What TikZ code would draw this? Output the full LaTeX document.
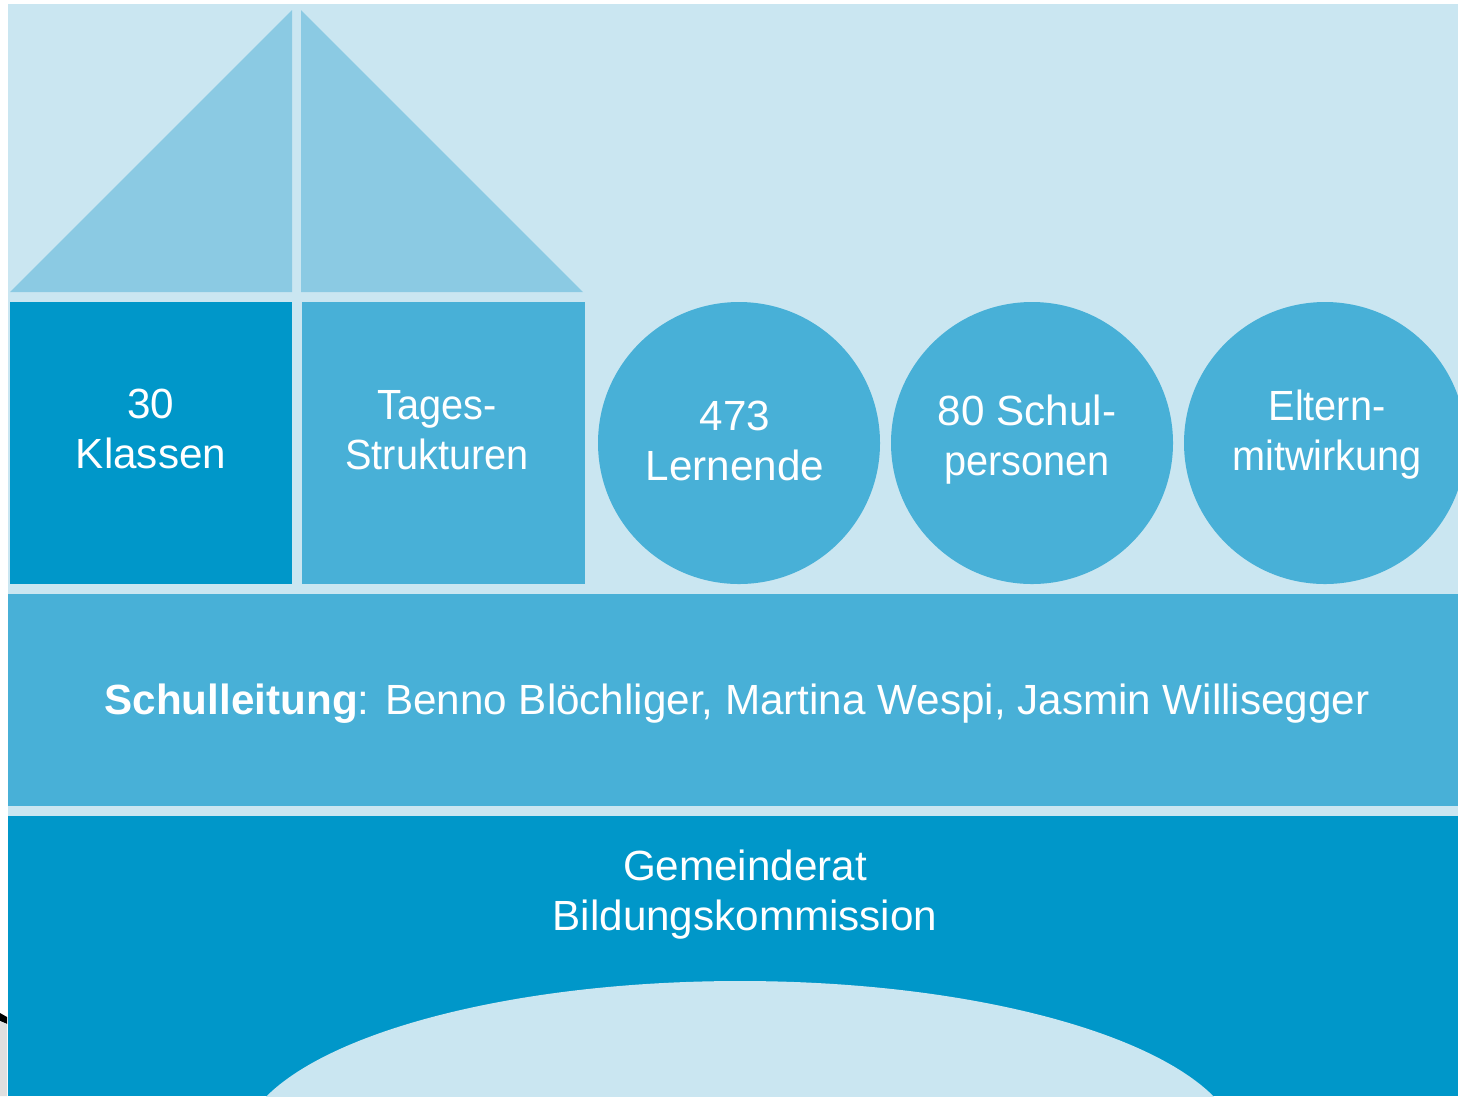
\documentclass[tikz,border=0pt]{standalone}
\usepackage{fontspec}
\setmainfont{Liberation Sans}
\newfontfamily\schmal[FakeStretch=0.94]{Liberation Sans}
\definecolor{hell}{HTML}{CAE6F1}
\definecolor{dach}{HTML}{8BCAE3}
\definecolor{dunkel}{HTML}{0097C9}
\definecolor{mittel}{HTML}{48B0D7}
\begin{document}
\begin{tikzpicture}[x=0.01cm,y=-0.01cm,
        txt/.style={text=white,align=center,inner sep=0pt,font=\fontsize{12}{14.2}\selectfont}]
            \useasboundingbox (0,0) rectangle (1458,1096);
            \fill[white] (0,0) rectangle (1458,1096);
            \fill[hell] (8,4) rectangle (1458,1096);
            \fill[black] (0,1013) -- (7,1017) -- (7,1024) -- (0,1021) -- cycle;
            \fill[gray!25] (0,1021) -- (7,1024) -- (7,1096) -- (0,1096) -- cycle;
            \fill[dach] (10,292) -- (292,10) -- (292,292) -- cycle;
            \fill[dach] (301,10) -- (301,292) -- (583,292) -- cycle;
            \fill[dunkel] (10,302) rectangle (292,584);
            \fill[mittel] (302,302) rectangle (585,584);
            \fill[mittel] (739,443) circle (141);
            \fill[mittel] (1032,443) circle (141);
            \fill[mittel] (1325,443) circle (141);
            \fill[mittel] (8,594) rectangle (1458,806);
            \fill[dunkel] (8,816) rectangle (1458,1096);
            \begin{scope}
                \clip (8,816) rectangle (1458,1096);
                \fill[hell] (740,1151) ellipse (500 and 170);
            \end{scope}
            \node[txt] (klassen) at (151,428.5) {30\\Klassen};
            \node[txt] (tages) at (437,430) {\schmal Tages-\\\schmal Strukturen};
            \node[txt] (lernende) at (735,441) {473\\Lernende};
            \node[txt] (personen) at (1027,439.5) {80 Schul-\\\schmal personen};
            \node[txt] (eltern) at (1327,434.5) {\schmal Eltern-\\\schmal mitwirkung};
            \node[txt,anchor=base] (leitung) at (737,714) {\textbf{Schulleitung}: Benno Blöchliger, Martina Wespi, Jasmin Willisegger};
            \node[txt] (rat) at (745,895) {Gemeinderat\\Bildungskommission};
        \end{tikzpicture}
\end{document}
